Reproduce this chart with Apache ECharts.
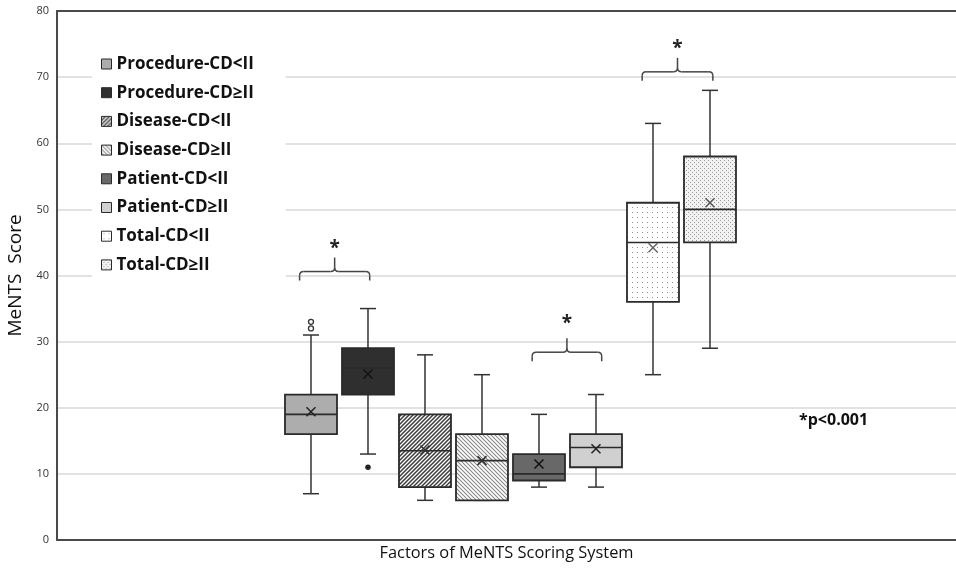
<!DOCTYPE html>
<html><head><meta charset="utf-8">
<script src="https://cdn.jsdelivr.net/npm/echarts@6/dist/echarts.min.js"></script>
<style>html,body{margin:0;padding:0;background:#fff}#c{width:956px;height:571px}</style>
</head><body><div id="c"></div>
<script>
// ---- data ----
const categories = ['Procedure-CD<II','Procedure-CD≥II','Disease-CD<II','Disease-CD≥II','Patient-CD<II','Patient-CD≥II','Total-CD<II','Total-CD≥II'];
const minVals  = [7, 13, 6, 6, 8, 8, 25, 29];
const q1Vals   = [16, 22, 8, 6, 9, 11, 36, 45];
const medVals  = [19, 26, 13.5, 12, 10, 14, 45, 50];
const q3Vals   = [22, 29, 19, 16, 13, 16, 51, 58];
const maxVals  = [31, 35, 28, 25, 19, 22, 63, 68];
const meanVals = [19.4, 25.1, 13.6, 12.0, 11.5, 13.8, 44.2, 51.0];
const hollowOutliers = [[1, 33], [1, 32]];
const filledOutliers = [[2, 11]];
// significance braces: [left x, right x, brace level, star level]
const braces = [[0.8, 2.03, 40.6, 44.8], [4.88, 6.1, 28.4, 33.5], [6.81, 8.05, 70.8, 75.0]];
const yTicks = [0, 10, 20, 30, 40, 50, 60, 70, 80];

// ---- styles ----
const FONT = "'Open Sans', 'Noto Sans', sans-serif";
function pattern(w, h, draw) {
  const c = document.createElement('canvas'); c.width = w; c.height = h;
  const ctx = c.getContext('2d'); draw(ctx, w, h);
  return { image: c, repeat: 'repeat' };
}
const hatchFwd = pattern(4, 4, (ctx) => {
  ctx.fillStyle = '#fff'; ctx.fillRect(0, 0, 4, 4);
  ctx.strokeStyle = '#3c3c3c'; ctx.lineWidth = 1.5;
  ctx.beginPath();
  ctx.moveTo(-1, 5); ctx.lineTo(5, -1);
  ctx.moveTo(-1, 1); ctx.lineTo(1, -1);
  ctx.moveTo(3, 5); ctx.lineTo(5, 3);
  ctx.stroke();
});
const hatchBack = pattern(4, 4, (ctx) => {
  ctx.fillStyle = '#fff'; ctx.fillRect(0, 0, 4, 4);
  ctx.strokeStyle = '#8a8a8a'; ctx.lineWidth = 1.1;
  ctx.beginPath();
  ctx.moveTo(-1, -1); ctx.lineTo(5, 5);
  ctx.moveTo(3, -1); ctx.lineTo(5, 1);
  ctx.moveTo(-1, 3); ctx.lineTo(1, 5);
  ctx.stroke();
});
const dotsSparse = pattern(5, 5, (ctx) => {
  ctx.fillStyle = '#fff'; ctx.fillRect(0, 0, 5, 5);
  ctx.fillStyle = '#8f8f8f'; ctx.fillRect(2, 2, 1, 1);
});
const dotsDense = pattern(4, 4, (ctx) => {
  ctx.fillStyle = '#f2f2f2'; ctx.fillRect(0, 0, 4, 4);
  ctx.fillStyle = '#9a9a9a'; ctx.fillRect(0, 0, 1, 1); ctx.fillRect(2, 2, 1, 1);
});
const fills = ['#adadad', '#2f2f2f', hatchFwd, hatchBack, '#686868', '#d0d0d0', dotsSparse, dotsDense];
const meanColors = ['#222', '#111', '#333', '#333', '#111', '#222', '#666', '#555'];
const BOX_W = 52 / 57, CAP_W = 16 / 57;

function boxRenderer(fill, meanColor) {
  return function (params, api) {
    const x = api.value(0);
    const p = (k) => api.coord([x, api.value(k)]);
    const pMin = p(1), pQ1 = p(2), pMed = p(3), pQ3 = p(4), pMax = p(5), pMean = p(6);
    const bw = api.size([BOX_W, 0])[0], cw = api.size([CAP_W, 0])[0];
    const cx = pMin[0];
    const ls = () => ({ stroke: '#333', lineWidth: 1.5 });
    const m = 4.5;
    return {
      type: 'group',
      children: [
        { type: 'line', shape: { x1: cx, y1: pMax[1], x2: cx, y2: pQ3[1] }, style: ls() },
        { type: 'line', shape: { x1: cx, y1: pQ1[1], x2: cx, y2: pMin[1] }, style: ls() },
        { type: 'line', shape: { x1: cx - cw / 2, y1: pMax[1], x2: cx + cw / 2, y2: pMax[1] }, style: ls() },
        { type: 'line', shape: { x1: cx - cw / 2, y1: pMin[1], x2: cx + cw / 2, y2: pMin[1] }, style: ls() },
        { type: 'rect', shape: { x: cx - bw / 2, y: pQ3[1], width: bw, height: pQ1[1] - pQ3[1] },
          style: { fill: fill, stroke: '#2a2a2a', lineWidth: 1.8 } },
        { type: 'line', shape: { x1: cx - bw / 2, y1: pMed[1], x2: cx + bw / 2, y2: pMed[1] },
          style: { stroke: '#2a2a2a', lineWidth: 1.6 } },
        { type: 'line', shape: { x1: cx - m, y1: pMean[1] - m, x2: cx + m, y2: pMean[1] + m },
          style: { stroke: meanColor, lineWidth: 1.5 } },
        { type: 'line', shape: { x1: cx - m, y1: pMean[1] + m, x2: cx + m, y2: pMean[1] - m },
          style: { stroke: meanColor, lineWidth: 1.5 } }
      ]
    };
  };
}

function braceRenderer(params, api) {
  const a = api.coord([api.value(0), api.value(2)]);
  const b = api.coord([api.value(1), api.value(2)]);
  const s = api.coord([api.value(0), api.value(3)]);
  const y = a[1], xl = a[0], xr = b[0], xm = (xl + xr) / 2;
  const r = 4, down = 9, up = 14;
  const st = () => ({ stroke: '#444', lineWidth: 1.5, fill: null });
  return {
    type: 'group',
    children: [
      { type: 'line', shape: { x1: xl, y1: y + down, x2: xl, y2: y + r }, style: st() },
      { type: 'bezierCurve', shape: { x1: xl, y1: y + r, cpx1: xl, cpy1: y, x2: xl + r, y2: y }, style: st() },
      { type: 'line', shape: { x1: xl + r, y1: y, x2: xm - r, y2: y }, style: st() },
      { type: 'bezierCurve', shape: { x1: xm - r, y1: y, cpx1: xm, cpy1: y, x2: xm, y2: y - r }, style: st() },
      { type: 'line', shape: { x1: xm, y1: y - r, x2: xm, y2: y - up }, style: st() },
      { type: 'bezierCurve', shape: { x1: xm, y1: y - r, cpx1: xm, cpy1: y, x2: xm + r, y2: y }, style: st() },
      { type: 'line', shape: { x1: xm + r, y1: y, x2: xr - r, y2: y }, style: st() },
      { type: 'bezierCurve', shape: { x1: xr - r, y1: y, cpx1: xr, cpy1: y, x2: xr, y2: y + r }, style: st() },
      { type: 'line', shape: { x1: xr, y1: y + r, x2: xr, y2: y + down }, style: st() },
      { type: 'text', style: { text: '*', x: xm, y: s[1] + 5, fill: '#222',
          font: "bold 19px " + FONT, textAlign: 'center', textVerticalAlign: 'middle' } }
    ]
  };
}

const boxSeries = categories.map((name, i) => ({
  name: name,
  type: 'custom',
  renderItem: boxRenderer(fills[i], meanColors[i]),
  itemStyle: { color: fills[i], borderColor: '#2a2a2a', borderWidth: 1 },
  encode: { x: 0, y: [1, 2, 3, 4, 5, 6] },
  data: [[i + 1, minVals[i], q1Vals[i], medVals[i], q3Vals[i], maxVals[i], meanVals[i]]],
  z: 3
}));

const chart = echarts.init(document.getElementById('c'));
chart.setOption({
  animation: false,
  backgroundColor: '#fff',
  grid: { left: 57, right: 0, top: 11, bottom: 31, containLabel: false, outerBoundsMode: 'none' },
  xAxis: [{
    type: 'value', min: -3.456, max: 12.316,
    axisLine: { show: true, onZero: false, lineStyle: { color: '#4a4a4a', width: 2 } },
    axisTick: { show: false }, axisLabel: { show: false }, splitLine: { show: false },
    name: 'Factors of MeNTS Scoring System', nameLocation: 'middle', nameGap: 5,
    nameTextStyle: { fontFamily: FONT, fontSize: 16.4, color: '#111' }
  }, {
    type: 'value', position: 'top', min: -3.456, max: 12.316,
    axisLine: { show: true, onZero: false, lineStyle: { color: '#4a4a4a', width: 2 } },
    axisTick: { show: false }, axisLabel: { show: false }, splitLine: { show: false }
  }],
  yAxis: {
    type: 'value', min: yTicks[0], max: yTicks[yTicks.length - 1], interval: 10,
    axisLine: { show: true, onZero: false, lineStyle: { color: '#4a4a4a', width: 2 } },
    axisTick: { show: false },
    axisLabel: { margin: 8, fontFamily: FONT, fontSize: 11, color: '#333' },
    splitLine: { lineStyle: { color: '#d9d9d9', width: 1.5 } },
    name: 'MeNTS  Score', nameLocation: 'middle', nameGap: 30,
    nameTextStyle: { fontFamily: FONT, fontSize: 19, color: '#111' }
  },
  legend: {
    orient: 'vertical', left: 92, top: 44,
    padding: [10, 32, 12, 9],
    backgroundColor: '#fff',
    itemWidth: 10, itemHeight: 10, itemGap: 8.7, icon: 'rect',
    textStyle: { fontFamily: FONT, fontWeight: 'bold', fontSize: 17, color: '#111', lineHeight: 20 },
    data: categories.map((n, i) => ({ name: n, icon: 'rect',
      itemStyle: { color: fills[i], borderColor: '#2a2a2a', borderWidth: 1 } })),
    selectedMode: false, z: 10
  },
  graphic: [{
    type: 'text', left: 799, top: 412, z: 10,
    style: { text: '*p<0.001', font: "bold 16px " + FONT, fill: '#111' }
  }],
  series: boxSeries.concat([
    { name: 'braces', type: 'custom', renderItem: braceRenderer,
      encode: { x: [0, 1], y: [2, 3] }, data: braces, z: 2 },
    { name: 'outliersHollow', type: 'scatter', data: hollowOutliers, symbol: 'circle', symbolSize: 5,
      itemStyle: { color: '#fff', borderColor: '#333', borderWidth: 1.3, opacity: 1 }, z: 4 },
    { name: 'outliersFilled', type: 'scatter', data: filledOutliers, symbol: 'circle', symbolSize: 5.5,
      itemStyle: { color: '#222', opacity: 1 }, z: 4 }
  ])
});
</script>
</body></html>
